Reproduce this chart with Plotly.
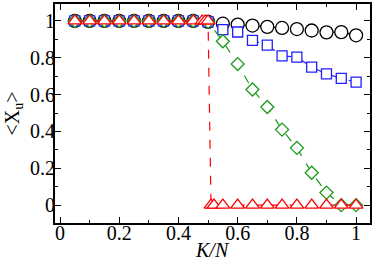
import plotly.graph_objects as go

x_main = [0.05, 0.10, 0.15, 0.20, 0.25, 0.30, 0.35, 0.40, 0.45, 0.50,
          0.55, 0.60, 0.65, 0.70, 0.75, 0.80, 0.85, 0.90, 0.95, 1.00]
y_circle = [1, 1, 1, 1, 1, 1, 1, 1, 1, 0.995,
            0.985, 0.98, 0.975, 0.968, 0.962, 0.956, 0.948, 0.938, 0.939, 0.922]
y_square = [1, 1, 1, 1, 1, 1, 1, 1, 1, 0.995,
            0.953, 0.94, 0.894, 0.869, 0.81, 0.804, 0.749, 0.713, 0.688, 0.668]
y_diamond = [1, 1, 1, 1, 1, 1, 1, 1, 1, 0.995,
             0.89, 0.766, 0.628, 0.533, 0.41, 0.311, 0.176, 0.068, 0.0, 0.0]

x_tri = [0.05, 0.10, 0.15, 0.20, 0.25, 0.30, 0.35, 0.40, 0.45, 0.48, 0.49, 0.50,
         0.51, 0.52, 0.55, 0.60, 0.65, 0.70, 0.75, 0.80, 0.85, 0.90, 0.95, 1.00]
y_tri = [1, 1, 1, 1, 1, 1, 1, 1, 1, 1, 1, 1,
         0, 0, 0, 0, 0, 0, 0, 0, 0, 0, 0, 0]

tick_vals = [0, 0.2, 0.4, 0.6, 0.8, 1]
tick_text = ["0", "0.2", "0.4", "0.6", "0.8", "1"]

X_RANGE = [-0.017, 1.047]
Y_RANGE = [-0.097, 1.092]

fig = go.Figure()

def add(x, y, color, symbol, size):
    fig.add_trace(go.Scatter(
        x=x, y=y, mode="lines+markers",
        line=dict(color=color, width=1.2, dash="dash"),
        marker=dict(symbol=symbol, size=size, color="white",
                    line=dict(color=color, width=1.3)),
        showlegend=False))

add(x_main, y_circle, "black", "circle", 13)
add(x_main, y_square, "#1f1fff", "square", 10)
add(x_main, y_diamond, "#1a9a1a", "diamond", 10)
add(x_tri, y_tri, "#ff0000", "triangle-up", 12)

# invisible trace on the label axes so they are drawn
fig.add_trace(go.Scatter(x=x_tri, y=y_tri, xaxis="x2", yaxis="y2", mode="markers",
                         marker=dict(opacity=0), hoverinfo="skip", showlegend=False))

font = dict(family="Times New Roman", size=20, color="black")

axis_common = dict(
    tickvals=tick_vals,
    ticks="inside", ticklen=6, tickwidth=1.2, tickcolor="black",
    minor=dict(ticks="inside", ticklen=3, dtick=0.1, tick0=0, tickcolor="black"),
    showline=True, linecolor="black", linewidth=1.5, mirror="allticks",
    showgrid=False, zeroline=False, showticklabels=False,
)
label_common = dict(
    tickvals=tick_vals, ticktext=tick_text, ticks="", showline=False,
    showgrid=False, zeroline=False, tickfont=font, anchor="free",
)

fig.update_layout(
    width=374, height=260,
    margin=dict(l=55, r=2, t=2, b=37),
    paper_bgcolor="white", plot_bgcolor="white",
    font=font,
    xaxis=dict(range=X_RANGE, **axis_common),
    yaxis=dict(range=Y_RANGE, **axis_common),
    xaxis2=dict(range=X_RANGE, overlaying="x", side="bottom", position=0.018, **label_common),
    yaxis2=dict(range=Y_RANGE, overlaying="y", side="left", position=0.0, **label_common),
    annotations=[
        dict(text="<i>K/N</i>", x=0.5, y=0, xref="paper", yref="paper",
             yshift=-40, xanchor="center", yanchor="bottom", showarrow=False,
             font=font),
        dict(text="&lt;X<sub>u</sub>&gt;", x=0, y=0.5, xref="paper", yref="paper",
             xshift=-42, xanchor="center", yanchor="middle", showarrow=False,
             textangle=-90, font=font),
    ],
)

fig.write_html("out.html", config={"displayModeBar": False},
               post_script="document.body.style.margin='0';")
